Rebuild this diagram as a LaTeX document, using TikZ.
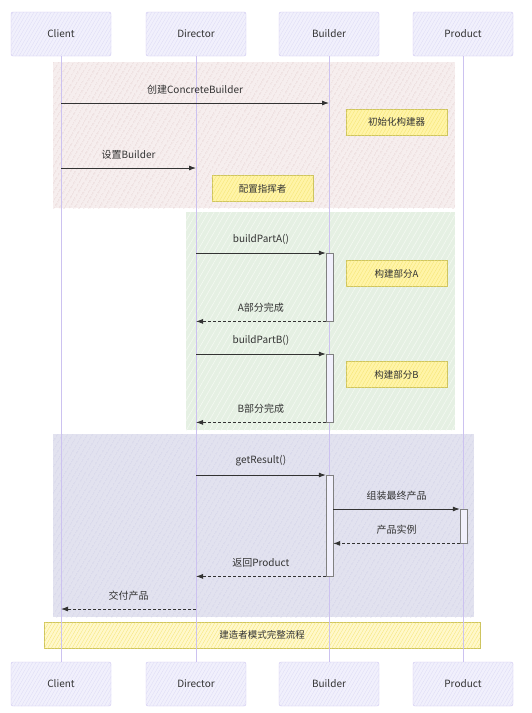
\documentclass[tikz,border=0pt]{standalone}
\usepackage{fontspec}
\setmainfont{Noto Sans CJK SC}
\usepackage{tikz}
\usetikzlibrary{arrows.meta, positioning, patterns.meta}
\definecolor{lanefill}{RGB}{241, 240, 252}
\definecolor{lanehatch}{RGB}{220, 218, 245}
\definecolor{laneline}{RGB}{204, 194, 240}
\definecolor{notefill}{RGB}{255, 244, 168}
\definecolor{notehatch}{RGB}{245, 228, 110}
\definecolor{noteline}{RGB}{205, 196, 96}
\definecolor{pinkfill}{RGB}{246, 238, 238}
\definecolor{pinkhatch}{RGB}{228, 204, 204}
\definecolor{greenfill}{RGB}{229, 240, 227}
\definecolor{greenhatch}{RGB}{246, 250, 244}
\definecolor{bluefill}{RGB}{226, 226, 239}
\definecolor{bluehatch}{RGB}{200, 200, 228}
\definecolor{msgline}{RGB}{51, 51, 51}

\begin{document}
\begin{tikzpicture}[
    x=1pt, y=-1pt,
    actor/.style={rectangle, rounded corners=2pt, draw=laneline, fill=lanefill, minimum width=100pt, minimum height=44pt,
        postaction={pattern={Lines[angle=60, distance=3pt, line width=0.3pt]}, pattern color=lanehatch}, font=\fontsize{10}{12}\selectfont, text=msgline},
    note/.style={rectangle, draw=noteline, fill=notefill, minimum width=101pt, minimum height=26pt,
        postaction={pattern={Lines[angle=60, distance=3pt, line width=0.3pt]}, pattern color=notehatch}, font=\fontsize{9.5}{11}\selectfont, text=msgline},
    bar/.style={rectangle, draw=gray, fill=lanefill, minimum width=7pt, inner sep=0pt},
    msg/.style={-{Latex[length=7pt, width=5pt]}, msgline, line width=0.8pt},
    reply/.style={msg, densely dashed},
    lbl/.style={font=\fontsize{10}{12}\selectfont, text=msgline, above=5pt, midway}
]
\useasboundingbox (0,0) rectangle (531,713);

% Frames
\fill[pinkfill] (53,62) rectangle (455,208);
\fill[pattern={Lines[angle=60, distance=4pt, line width=0.5pt]}, pattern color=pinkhatch] (53,62) rectangle (455,208);
\fill[greenfill] (186,212) rectangle (455,430);
\fill[pattern={Lines[angle=60, distance=5pt, line width=0.5pt]}, pattern color=greenhatch] (186,212) rectangle (455,430);
\fill[bluefill] (53,434) rectangle (474,617);
\fill[pattern={Lines[angle=60, distance=4pt, line width=0.5pt]}, pattern color=bluehatch] (53,434) rectangle (474,617);

% Final note
\node[note, minimum width=436pt, fill=notefill!60] (summary) at (262,635) {建造者模式完整流程};

% Participants
\foreach \n/\x/\t in {cl/61/Client, dir/196/Director, bld/329/Builder, prd/463/Product} {
    \node[actor] (\n) at (\x,34) {\t};
    \node[actor] (\n B) at (\x,684) {\t};
    \draw[laneline, line width=1pt] (\n) -- (\n B);
}

% Notes
\node[note] (init) at (396.5,122) {初始化构建器};
\node[note] (conf) at (262.5,188.5) {配置指挥者};
\node[note] (partA) at (396.5,273.5) {构建部分A};
\node[note] (partB) at (396.5,374.5) {构建部分B};

% Activations
\node[bar, minimum height=68pt, anchor=north] (actA) at (329.5,253) {};
\node[bar, minimum height=68pt, anchor=north] (actB) at (329.5,354) {};
\node[bar, minimum height=101pt, anchor=north] (actR) at (329.5,475) {};
\node[bar, minimum height=34pt, anchor=north] (actP) at (463.5,509) {};

% Messages
\coordinate (c1) at (cl |- 0,103);
\coordinate (b1) at (bld |- 0,103);
\draw[msg] (c1) -- (b1) node[lbl] {创建ConcreteBuilder};
\coordinate (c2) at (cl |- 0,168);
\coordinate (d2) at (dir |- 0,168);
\draw[msg] (c2) -- (d2) node[lbl] {设置Builder};

\draw[msg] (dir |- actA.north) -- (actA.north west) node[lbl] {buildPartA()};
\draw[reply] (actA.south west) -- (dir |- actA.south) node[lbl] {A部分完成};
\draw[msg] (dir |- actB.north) -- (actB.north west) node[lbl] {buildPartB()};
\draw[reply] (actB.south west) -- (dir |- actB.south) node[lbl] {B部分完成};

\draw[msg] (dir |- actR.north) -- (actR.north west) node[lbl] {getResult()};
\draw[msg] (actR.east |- actP.north) -- (actP.north west) node[lbl] {组装最终产品};
\draw[reply] (actP.south west) -- (actR.east |- actP.south) node[lbl] {产品实例};
\draw[reply] (actR.south west) -- (dir |- actR.south) node[lbl] {返回Product};
\coordinate (d5) at (dir |- 0,609);
\coordinate (c5) at (cl |- 0,609);
\draw[reply] (d5) -- (c5) node[lbl] {交付产品};

\end{tikzpicture}
\end{document}
